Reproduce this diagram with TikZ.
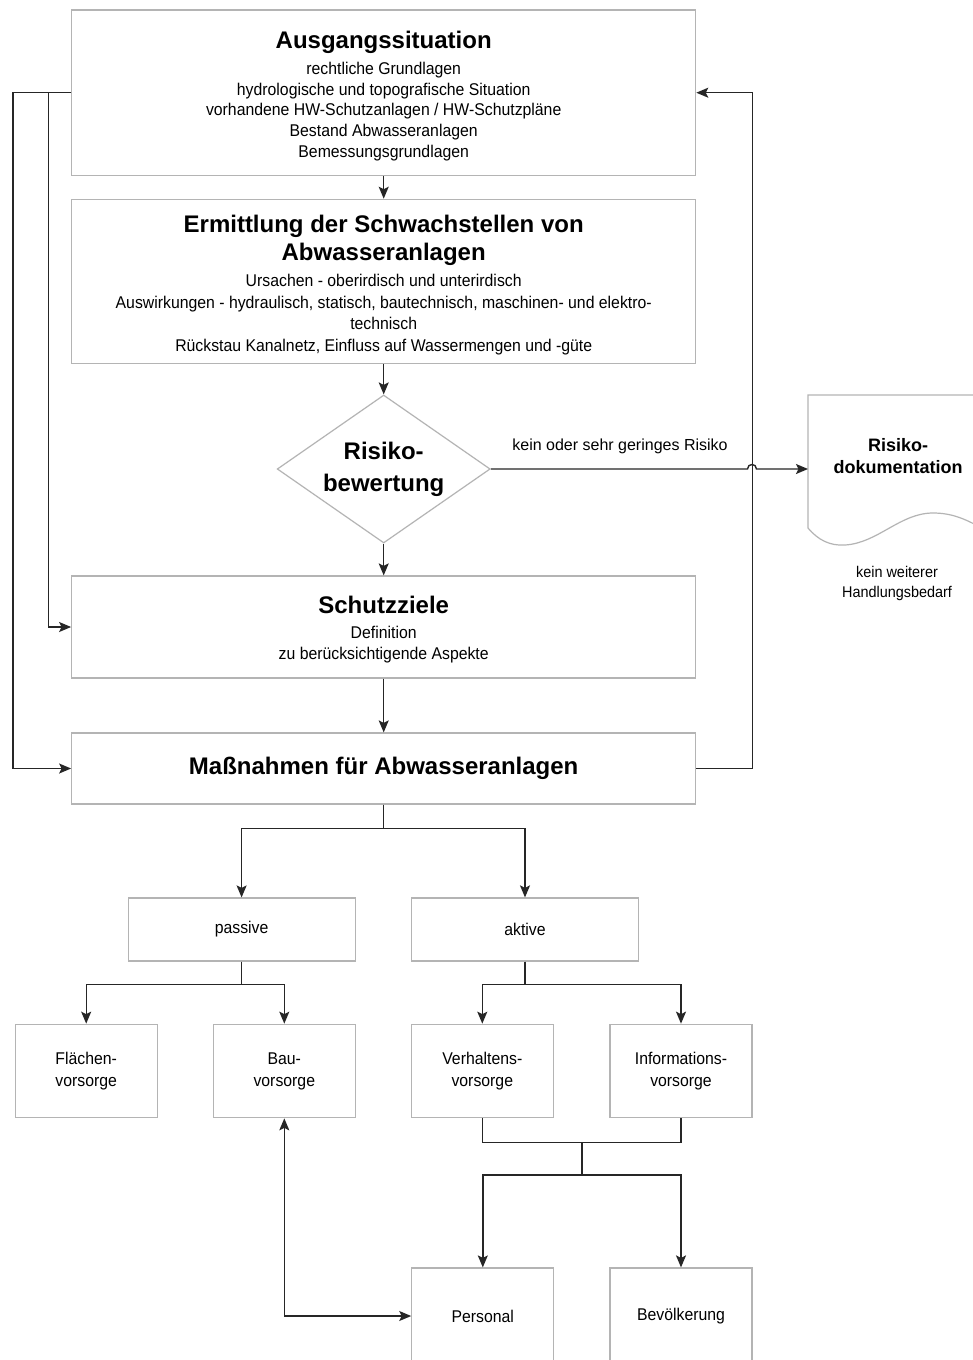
\documentclass[tikz,border=0pt]{standalone}
\usepackage{fontspec}
\setmainfont{Liberation Sans}
\newfontfamily\bodyf{Liberation Sans}[FakeStretch=0.93]
\usetikzlibrary{arrows.meta,shapes.geometric,calc}
\definecolor{boxgray}{HTML}{B4B4B4}
\definecolor{linecol}{HTML}{262626}
\begin{document}
\begin{tikzpicture}[x=1pt,y=-1pt,
  box/.style={draw=boxgray, line width=1.2pt, inner sep=0pt, align=center,
    font=\bodyf\fontsize{17}{22}\selectfont},
  ttl/.style={font=\fontsize{24}{28}\selectfont\bfseries, align=center, inner sep=0pt},
  bodytxt/.style={font=\bodyf\fontsize{17}{21}\selectfont, align=center, inner sep=0pt},
  conn/.style={draw=linecol, line width=1.4pt},
  tip/.tip={Stealth[length=12pt,width=10pt,inset=2.5pt]},
  arr/.style={conn, -tip},
]
\useasboundingbox (0,0) rectangle (972,1360);
\fill[white] (0,0) rectangle (972,1360);

% --- main boxes
\node[box, minimum width=624pt, minimum height=165.3pt] (ausg) at (383.7,92.7) {};
\node[ttl, anchor=base] (ausgT) at (383.7,48.6) {Ausgangssituation};
\node[bodytxt, font=\bodyf\fontsize{17}{20.7}\selectfont] (ausgB) at (383.7,111.4)
  {rechtliche Grundlagen\\hydrologische und topografische Situation\\vorhandene HW-Schutzanlagen / HW-Schutzpläne\\Bestand Abwasseranlagen\\Bemessungsgrundlagen};

\node[box, minimum width=624pt, minimum height=164pt] (ermitt) at (383.7,281.3) {};
\node[ttl] (ermittT) at (383.7,240.5) {Ermittlung der Schwachstellen von\\Abwasseranlagen};
\node[bodytxt, font=\bodyf\fontsize{17}{21.5}\selectfont] (ermittB) at (383.7,314.6)
  {Ursachen - oberirdisch und unterirdisch\\Auswirkungen - hydraulisch, statisch, bautechnisch, maschinen- und elektro-\\technisch\\Rückstau Kanalnetz, Einfluss auf Wassermengen und -güte};

\node[diamond, draw=boxgray, line width=1.2pt, inner sep=0pt, shape aspect=1.44,
  minimum width=213pt, minimum height=148pt, align=center,
  font=\fontsize{24}{32}\selectfont\bfseries] (risk) at (383.7,469) {Risiko-\\bewertung};

\node[box, minimum width=624pt, minimum height=102pt] (schutz) at (383.7,627) {};
\node[ttl, anchor=base] (schutzT) at (383.7,613.6) {Schutzziele};
\node[bodytxt, font=\bodyf\fontsize{17}{21.6}\selectfont] (schutzB) at (383.7,644.5)
  {Definition\\zu berücksichtigende Aspekte};

\node[box, minimum width=624pt, minimum height=71pt,
  font=\fontsize{24}{28}\selectfont\bfseries] (mass) at (383.7,768.5) {Maßnahmen für Abwasseranlagen};

% --- document shape
\draw[boxgray, line width=1.2pt] (985,395) -- (808,395) -- (808,528)
  .. controls (818,540) and (830,546) .. (845,545)
  .. controls (878,543) and (900,513) .. (933,513)
  .. controls (952,513) and (966,519) .. (985,530);
\node[font=\fontsize{18}{22}\selectfont\bfseries, align=center, inner sep=0pt] (doc) at (898,456) {Risiko-\\dokumentation};
\coordinate (docin) at (808,469);
\node[font=\bodyf\fontsize{15.5}{20}\selectfont, align=center, inner sep=0pt] (docnote) at (897,583.4) {kein weiterer\\Handlungsbedarf};

% --- lower tree
\node[box, minimum width=227pt, minimum height=63pt] (passive) at (241.6,929.5) {passive};
\node[box, minimum width=227pt, minimum height=63pt] (aktive) at (525,929.5) {aktive};

\node[box, minimum width=142pt, minimum height=93.5pt] (flaech) at (86.2,1071) {Flächen-\\vorsorge};
\node[box, minimum width=142pt, minimum height=93.5pt] (bau) at (284.3,1071) {Bau-\\vorsorge};
\node[box, minimum width=142pt, minimum height=93.5pt] (verh) at (482.3,1071) {Verhaltens-\\vorsorge};
\node[box, minimum width=142pt, minimum height=93.5pt] (info) at (681,1071) {Informations-\\vorsorge};

\node[box, minimum width=142pt, minimum height=96pt] (pers) at (482.8,1316) {Personal};
\node[box, minimum width=142pt, minimum height=96pt] (bevo) at (681,1316) {Bevölkerung};

% --- connectors main column
\draw[arr] (ausg.south) -- (ermitt.north);
\draw[arr] (ermitt.south) -- (risk.north);
\draw[arr] (risk.south) -- (schutz.north);
\draw[arr] (schutz.south) -- (mass.north);

% left feedback lines
\draw[arr] (ausg.west) -- ++(-58,0) |- (mass.west);
\draw[arr] (ausg.west) -- ++(-22.4,0) |- (schutz.west);
% right loop
\draw[arr] (mass.east) -- ++(56,0) |- (ausg.east);

% risk -> documentation with hop
\draw[arr] (risk.east) -- (747.5,469) .. controls (747.5,463) and (756.5,463) .. (756.5,469) -- (docin);
\node[font=\fontsize{16}{19}\selectfont, anchor=base, inner sep=0pt] (risklbl) at (620,450.7) {kein oder sehr geringes Risiko};

% tree
\draw[arr] (mass.south) -- ++(0,24) -| (passive.north);
\draw[arr] (mass.south) -- ++(0,24) -| (aktive.north);
\draw[arr] (passive.south) -- ++(0,23) -| (flaech.north);
\draw[arr] (passive.south) -- ++(0,23) -| (bau.north);
\draw[arr] (aktive.south) -- ++(0,23) -| (verh.north);
\draw[arr] (aktive.south) -- ++(0,23) -| (info.north);

\coordinate (join) at (582,1142.3);
\coordinate (fork) at (582,1175);
\draw[conn] (verh.south) |- (join);
\draw[conn] (info.south) |- (join);
\draw[conn] (join) -- (fork);
\draw[arr] (fork) -| (pers.north);
\draw[arr] (fork) -| (bevo.north);

\draw[conn, tip-tip] (bau.south) |- (pers.west);
\end{tikzpicture}
\end{document}
